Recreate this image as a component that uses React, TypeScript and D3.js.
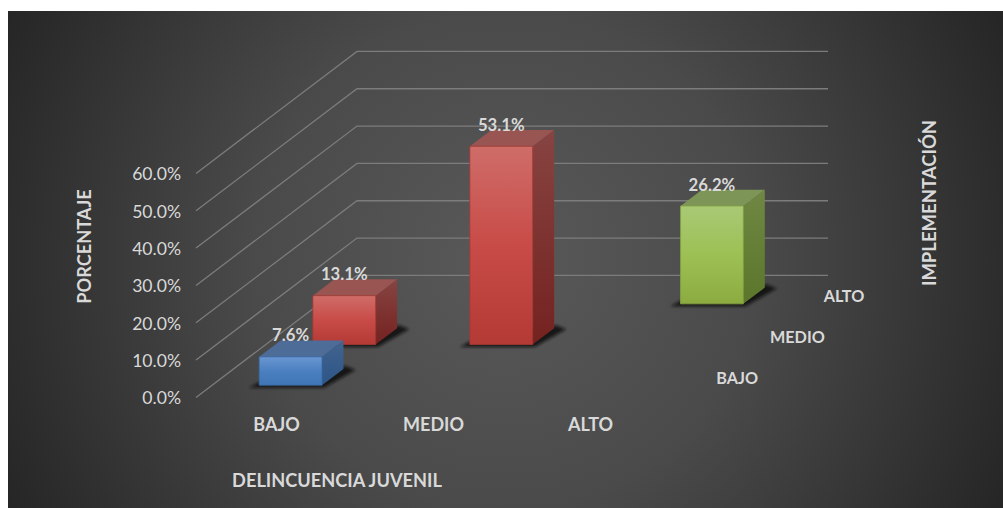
import React from "react";
import * as d3 from "d3";

const categories = ["BAJO", "MEDIO", "ALTO"];
const seriesNames = ["BAJO", "MEDIO", "ALTO"];
const valuesBajo = [7.6, 0, 0];
const valuesMedio = [13.1, 53.1, 0];
const valuesAlto = [0, 0, 26.2];
const yTicks = [0, 10, 20, 30, 40, 50, 60];
const xTitle = "DELINCUENCIA JUVENIL";
const yTitle = "PORCENTAJE";
const zTitle = "IMPLEMENTACIÓN";

const W = 1003, H = 508;
const FONT = "Lato, 'Open Sans', sans-serif";
const TXT = "#d9d9d9";

// Projection of the 3-D box
const ox = 196, oy = 397.4, depthX = 161, depthY = 122;
const xScale = d3.scaleBand<string>().domain(categories).range([0, 471]).paddingInner(0.6).paddingOuter(0.3);
const zScale = d3.scaleBand<string>().domain(seriesNames).range([0, 1]).paddingInner(0.6).paddingOuter(0.3);
const yScale = d3.scaleLinear().domain([0, 60]).range([0, 224]);
const P = (a: number, d: number, v: number): [number, number] => [ox + a + d * depthX, oy - d * depthY - yScale(v)];
const line = d3.line();
const poly = (pts: [number, number][]) => line(pts) + "Z";

const palette = [
  { id: "b", f: ["#6a96d2", "#4b80c0", "#3f74b6"], s: ["#42648f", "#2c5587"], t: "#4d6c98", e: "#3a6aa5" },
  { id: "r", f: ["#cf6d69", "#c84b47", "#b43a36"], s: ["#874442", "#742220"], t: "#985552", e: "#a83733" },
  { id: "g", f: ["#a9c976", "#9dc054", "#8bab40"], s: ["#6f8743", "#5b772b"], t: "#7d9556", e: "#86a63e" },
];
const allSeries = [valuesBajo, valuesMedio, valuesAlto];

const Bar = ({ i, j, v }: { i: number; j: number; v: number }) => {
  const c = palette[j];
  const a0 = xScale(categories[i])!, a1 = a0 + xScale.bandwidth();
  const d0 = zScale(seriesNames[j])!, d1 = d0 + zScale.bandwidth();
  const fbl = P(a0, d0, 0), fbr = P(a1, d0, 0), ftl = P(a0, d0, v), ftr = P(a1, d0, v);
  const bbr = P(a1, d1, 0), btr = P(a1, d1, v), btl = P(a0, d1, v);
  const sh: [number, number][] = [
    [fbl[0] - 10, fbl[1] + 2.5],
    [fbr[0] + 2, fbr[1] + 2.5],
    [bbr[0] + 12, bbr[1] + 1],
    [bbr[0] + 2, bbr[1] - 3],
    [fbl[0], fbl[1] - 3],
  ];
  return (
    <g>
      <path d={poly(sh)} fill="#111" opacity={0.85} filter="url(#soft)" />
      <path d={poly([fbr, bbr, btr, ftr])} fill={`url(#${c.id}s)`} />
      <path d={poly([ftl, ftr, btr, btl])} fill={c.t} />
      <path d={poly([fbl, fbr, ftr, ftl])} fill={`url(#${c.id}f)`} stroke={c.e} strokeWidth={0.8} />
      <text x={(ftl[0] + ftr[0]) / 2} y={ftl[1] - 15.5} textAnchor="middle" fontFamily={FONT} fontWeight={700} fontSize={16.7} fill={TXT}>
        {d3.format(".1f")(v)}%
      </text>
    </g>
  );
};

export default function App() {
  const bars: { i: number; j: number; v: number }[] = [];
  allSeries.forEach((vals, j) => vals.forEach((v, i) => { if (v > 0) bars.push({ i, j, v }); }));
  // Painter's order: back to front
  const ordered = [...bars].sort((p, q) => q.j - p.j);
  return (
    <svg width={W} height={H} style={{ position: "absolute", left: 0, top: 0, display: "block" }}>
      <defs>
        <radialGradient id="bg" gradientUnits="userSpaceOnUse" cx={505} cy={260} r={560}>
          <stop offset="0" stopColor="#595959" />
          <stop offset="0.45" stopColor="#4a4a4a" />
          <stop offset="1" stopColor="#252525" />
        </radialGradient>
        <filter id="soft" x="-30%" y="-60%" width="160%" height="220%">
          <feGaussianBlur stdDeviation="1.6" />
        </filter>
        {palette.map((c) => (
          <React.Fragment key={c.id}>
            <linearGradient id={`${c.id}f`} x1="0" y1="0" x2="0" y2="1">
              <stop offset="0" stopColor={c.f[0]} />
              <stop offset="0.5" stopColor={c.f[1]} />
              <stop offset="1" stopColor={c.f[2]} />
            </linearGradient>
            <linearGradient id={`${c.id}s`} x1="0" y1="0" x2="0" y2="1">
              <stop offset="0" stopColor={c.s[0]} />
              <stop offset="1" stopColor={c.s[1]} />
            </linearGradient>
          </React.Fragment>
        ))}
      </defs>
      <rect x={8} y={11} width={W - 8} height={H - 11} fill="url(#bg)" />

      {yTicks.map((t) => {
        const f = P(0, 0, t), b = P(0, 1, t), e = P(471, 1, t);
        return (
          <g key={t}>
            <path d={line([f, b, e])!} fill="none" stroke="#7c7c7c" strokeWidth={1.3} />
            <text x={181} y={f[1] + 6.8} textAnchor="end" fontFamily={FONT} fontSize={17.6} fill={TXT}>
              {d3.format(".1f")(t)}%
            </text>
          </g>
        );
      })}

      {ordered.map((b) => <Bar key={`${b.i}-${b.j}`} {...b} />)}

      {categories.map((c) => (
        <text key={c} x={P(xScale(c)! + xScale.bandwidth() / 2, 0, 0)[0] + 2} y={431} textAnchor="middle"
          fontFamily={FONT} fontWeight={700} fontSize={18} fill={TXT}>{c}</text>
      ))}
      {seriesNames.map((s) => {
        const d = zScale(s)! + zScale.bandwidth() / 2;
        const p = P(471, d, 0);
        return (
          <text key={s} x={p[0] + 22.5} y={p[1] + 6.5} textAnchor="start" fontFamily={FONT} fontWeight={700} fontSize={16.2} fill={TXT}>{s}</text>
        );
      })}

      <text x={337} y={487} textAnchor="middle" fontFamily={FONT} fontWeight={700} fontSize={18.2} fill={TXT}>{xTitle}</text>
      <text transform="translate(90.5,246.5) rotate(-90)" textAnchor="middle" fontFamily={FONT} fontWeight={700} fontSize={18.2} fill={TXT}>{yTitle}</text>
      <text transform="translate(936,203) rotate(-90)" textAnchor="middle" fontFamily={FONT} fontWeight={700} fontSize={18.5} fill={TXT}>{zTitle}</text>
    </svg>
  );
}
